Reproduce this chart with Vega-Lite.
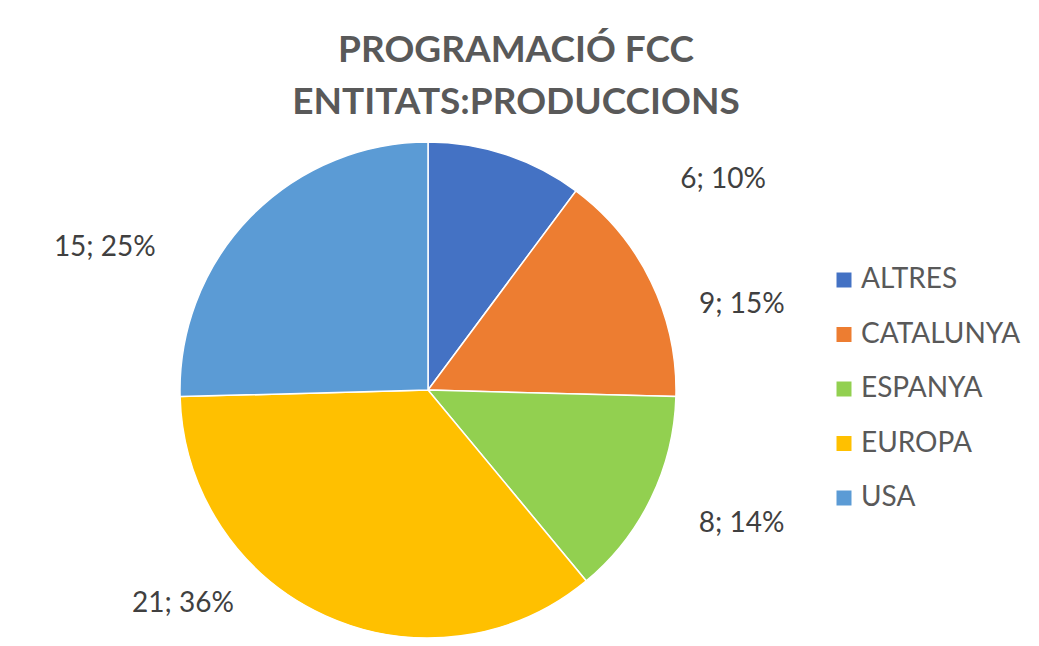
{
  "$schema": "https://vega.github.io/schema/vega-lite/v6.json",
  "width": 856,
  "height": 512,
  "autosize": {"type": "none"},
  "padding": {"left": 0, "top": 134, "right": 183, "bottom": 0},
  "background": "white",
  "config": {"view": {"stroke": null}},
  "title": {
    "text": ["PROGRAMACIÓ FCC", "ENTITATS:PRODUCCIONS"],
    "font": "Lato",
    "fontSize": 37,
    "fontWeight": "bold",
    "color": "#595959",
    "anchor": "middle",
    "dx": 88,
    "offset": 12,
    "lineHeight": 52
  },
  "data": {
    "values": [
      {"category": "ALTRES", "value": 6},
      {"category": "CATALUNYA", "value": 9},
      {"category": "ESPANYA", "value": 8},
      {"category": "EUROPA", "value": 21},
      {"category": "USA", "value": 15}
    ]
  },
  "transform": [
    {"joinaggregate": [{"op": "sum", "field": "value", "as": "total"}]},
    {"calculate": "datum.value + '; ' + format(datum.value / datum.total, '.0%')", "as": "label"}
  ],
  "layer": [
    {
      "mark": {"type": "arc", "outerRadius": 248, "stroke": "white", "strokeWidth": 1.5},
      "encoding": {
        "theta": {"field": "value", "type": "quantitative", "stack": true},
        "order": {"field": "category", "sort": "ascending"},
        "color": {
          "field": "category",
          "type": "nominal",
          "scale": {
            "domain": ["ALTRES", "CATALUNYA", "ESPANYA", "EUROPA", "USA"],
            "range": ["#4472C4", "#ED7D31", "#92D050", "#FFC000", "#5B9BD5"]
          },
          "legend": {
            "title": null,
            "orient": "none",
            "legendX": 830,
            "legendY": 132,
            "labelFont": "Lato",
            "labelFontSize": 28,
            "labelColor": "#595959",
            "symbolType": "square",
            "symbolSize": 225,
            "symbolStrokeWidth": 0,
            "rowPadding": 26.5,
            "labelOffset": 3
          }
        }
      }
    },
    {
      "mark": {
        "type": "text",
        "font": "Lato",
        "fontSize": 28,
        "color": "#404040",
        "radius": {"expr": "datum.category == 'ALTRES' ? 362 : datum.category == 'CATALUNYA' ? 325 : datum.category == 'ESPANYA' ? 341 : datum.category == 'EUROPA' ? 325 : 353"},
        "thetaOffset": {"expr": "datum.category == 'ALTRES' ? 0.634 : datum.category == 'CATALUNYA' ? 0.189 : datum.category == 'ESPANYA' ? -0.049 : datum.category == 'EUROPA' ? 0.428 : -0.358"}
      },
      "encoding": {
        "theta": {"field": "value", "type": "quantitative", "stack": true},
        "order": {"field": "category", "sort": "ascending"},
        "text": {"field": "label", "type": "nominal"}
      }
    }
  ]
}
